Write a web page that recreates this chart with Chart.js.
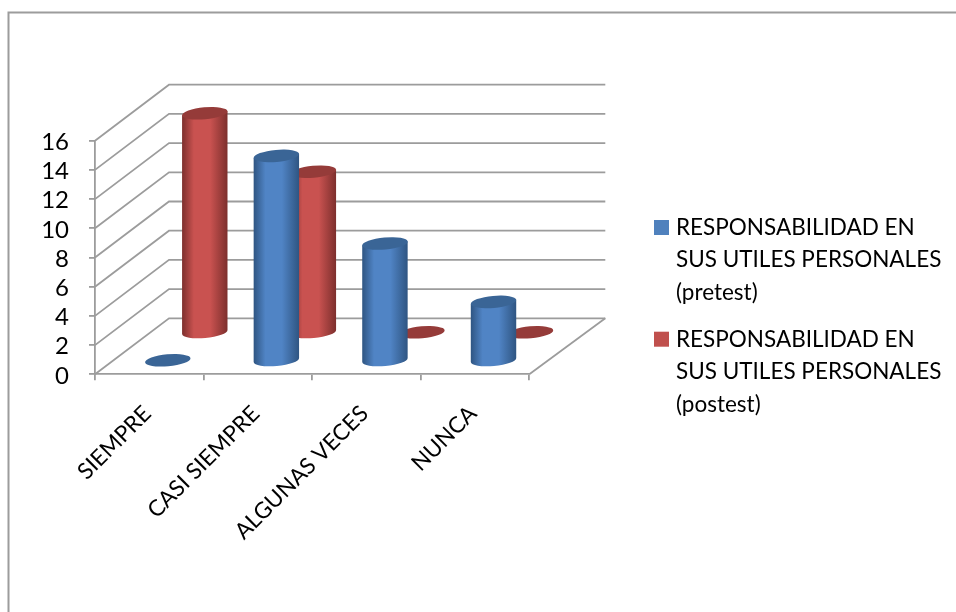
<!DOCTYPE html>
<html>
<head>
<meta charset="utf-8">
<title>Responsabilidad en sus utiles personales</title>
<style>
    html, body { margin: 0; padding: 0; background: #fff; }
    canvas { display: block; }
</style>
<script src="https://cdn.jsdelivr.net/npm/chart.js@4"></script>
</head>
<body>
<canvas id="cylinderChart" width="956" height="612"></canvas>
<script>
const categories = ['SIEMPRE', 'CASI SIEMPRE', 'ALGUNAS VECES', 'NUNCA'];
const pretest = [0, 14, 8, 4];
const postest = [15, 11, 0, 0];

const FONT = 'Lato, "Open Sans", sans-serif';
const GRID_COLOR = '#9c9c9c';

// How far the back wall sits from the front plane, in pixels
const DEPTH_X = 74;
const DEPTH_Y = -56;

// Cylinder drawn in place of the flat bar rectangle
class CylinderElement extends Chart.BarElement {
    static id = 'cylinder';
    static defaults = {
        ...Chart.BarElement.defaults,
        depth: 0,
        edgeColor: '#000',
        centerColor: '#888',
        capColor: '#444'
    };

    draw(ctx) {
        const o = this.options;
        const cx = this.x + DEPTH_X * o.depth;
        const top = this.y + DEPTH_Y * o.depth;
        const bottom = this.base + DEPTH_Y * o.depth + 0.6;
        const rx = this.width / 2;
        const ry = 6;
        const tilt = -0.09;
        const skew = rx * Math.sin(tilt);
        const left = cx - rx * Math.cos(tilt);
        const right = cx + rx * Math.cos(tilt);

        ctx.save();
        if (bottom - top > 1) {
            const body = ctx.createLinearGradient(left, 0, right, 0);
            body.addColorStop(0, o.edgeColor);
            body.addColorStop(0.26, o.centerColor);
            body.addColorStop(0.62, o.centerColor);
            body.addColorStop(1, o.edgeColor);
            ctx.fillStyle = body;
            ctx.beginPath();
            ctx.moveTo(left, top - skew);
            ctx.lineTo(left, bottom - skew);
            ctx.ellipse(cx, bottom, rx, ry, tilt, Math.PI, 0, true);
            ctx.lineTo(right, top + skew);
            ctx.closePath();
            ctx.fill();
        }
        ctx.fillStyle = o.capColor;
        ctx.beginPath();
        ctx.ellipse(cx, top, rx, ry, tilt, 0, Math.PI * 2);
        ctx.fill();
        ctx.restore();
    }
}

class CylinderController extends Chart.BarController {
    static id = 'cylinder';
    static defaults = {
        ...Chart.BarController.defaults,
        dataElementType: 'cylinder'
    };
    static overrides = Chart.BarController.overrides;
}

Chart.register(CylinderElement, CylinderController);

// Outer frame, walls and floor behind the cylinders
const wallsPlugin = {
    id: 'walls',
    beforeDatasetsDraw(chart) {
        const { ctx, chartArea, scales } = chart;
        const { left, right, bottom } = chartArea;

        ctx.save();
        ctx.strokeStyle = GRID_COLOR;
        ctx.lineWidth = 2;
        ctx.beginPath();
        ctx.moveTo(8.5, 612);
        ctx.lineTo(8.5, 12.5);
        ctx.lineTo(956, 12.5);
        ctx.stroke();

        ctx.lineWidth = 1.8;
        scales.y.ticks.forEach(tick => {
            const y = scales.y.getPixelForValue(tick.value);
            ctx.beginPath();
            ctx.moveTo(left, y);
            ctx.lineTo(left + DEPTH_X, y + DEPTH_Y);
            ctx.lineTo(right + DEPTH_X + 2, y + DEPTH_Y);
            ctx.stroke();
        });

        // right edge of the floor
        ctx.beginPath();
        ctx.moveTo(right, bottom);
        ctx.lineTo(right + DEPTH_X + 2, bottom + DEPTH_Y);
        ctx.stroke();
        ctx.restore();
    }
};

function wrapText(ctx, text, maxWidth) {
    const lines = [];
    let line = '';
    text.split(' ').forEach(word => {
        const next = line ? line + ' ' + word : word;
        if (line && ctx.measureText(next).width > maxWidth) {
            lines.push(line);
            line = word;
        } else {
            line = next;
        }
    });
    lines.push(line);
    return lines;
}

// Legend with wrapped labels, the built-in one keeps them on a single line
const wrappedLegendPlugin = {
    id: 'wrappedLegend',
    afterDraw(chart) {
        const { ctx } = chart;
        const lineHeight = 32.4;
        let baseline = 235;

        ctx.save();
        ctx.font = '22.5px ' + FONT;
        ctx.textAlign = 'left';
        ctx.textBaseline = 'alphabetic';
        chart.data.datasets.forEach(ds => {
            ctx.fillStyle = ds.backgroundColor;
            ctx.fillRect(654, baseline - 15, 15, 15);
            ctx.fillStyle = '#000';
            const lines = wrapText(ctx, ds.label, 280);
            lines.forEach((line, i) => {
                ctx.fillText(line, 676, baseline + i * lineHeight);
            });
            baseline += lines.length * lineHeight + 14.5;
        });
        ctx.restore();
    }
};

const ctx = document.getElementById('cylinderChart').getContext('2d');
const cylinderChart = new Chart(ctx, {
    type: 'cylinder',
    data: {
        labels: categories,
        datasets: [
            {
                label: 'RESPONSABILIDAD EN SUS UTILES PERSONALES (pretest)',
                data: pretest,
                backgroundColor: '#4f81bd',
                edgeColor: '#2f5582',
                centerColor: '#5084c5',
                capColor: '#3a6596',
                depth: 0.25,
                clip: false
            },
            {
                label: 'RESPONSABILIDAD EN SUS UTILES PERSONALES (postest)',
                data: postest,
                backgroundColor: '#c0504d',
                edgeColor: '#7d2f2d',
                centerColor: '#c95250',
                capColor: '#953b39',
                depth: 0.75,
                clip: false
            }
        ]
    },
    options: {
        responsive: false,
        animation: false,
        layout: {
            padding: { top: 140.7, right: 426.7, bottom: 0, left: 0 }
        },
        plugins: {
            legend: { display: false },
            tooltip: { enabled: false }
        },
        datasets: {
            cylinder: {
                grouped: false,
                categoryPercentage: 1,
                barPercentage: 0.42
            }
        },
        scales: {
            x: {
                afterFit: scale => { scale.height = 237.7; },
                grid: {
                    drawOnChartArea: false,
                    color: GRID_COLOR,
                    lineWidth: 1.8,
                    tickLength: 6
                },
                border: { color: GRID_COLOR, width: 1.8 },
                ticks: {
                    autoSkip: false,
                    minRotation: 45,
                    maxRotation: 45,
                    padding: 20,
                    labelOffset: -2,
                    color: '#000',
                    font: { family: FONT, size: 22.5 }
                }
            },
            y: {
                min: 0,
                max: 16,
                afterFit: scale => { scale.width = 95; },
                grid: {
                    drawOnChartArea: false,
                    color: GRID_COLOR,
                    lineWidth: 1.8,
                    tickLength: 6
                },
                border: { color: GRID_COLOR, width: 1.8 },
                ticks: {
                    autoSkip: false,
                    stepSize: 2,
                    padding: 20,
                    labelOffset: 1.5,
                    color: '#000',
                    font: { family: FONT, size: 24 }
                }
            }
        }
    },
    plugins: [wallsPlugin, wrappedLegendPlugin]
});
</script>
</body>
</html>
